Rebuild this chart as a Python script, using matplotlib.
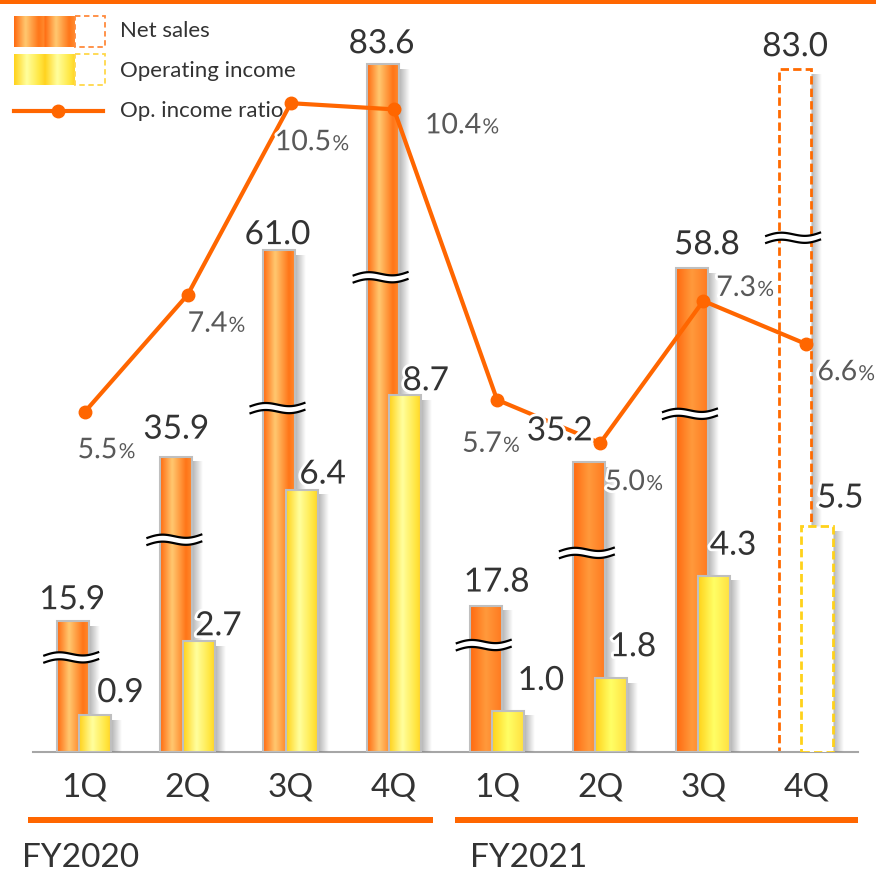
import numpy as np
import matplotlib
matplotlib.use('Agg')
import matplotlib.pyplot as plt
import matplotlib.patheffects as pe
from matplotlib.colors import LinearSegmentedColormap
from matplotlib.patches import Rectangle

plt.rcParams['font.family'] = ['Lato', 'DejaVu Sans']

# data (net sales / operating income in billions, ratio in %)
quarters = ['1Q', '2Q', '3Q', '4Q', '1Q', '2Q', '3Q', '4Q']
net_sales = [15.9, 35.9, 61.0, 83.6, 17.8, 35.2, 58.8, 83.0]
op_income = [0.9, 2.7, 6.4, 8.7, 1.0, 1.8, 4.3, 5.5]
op_ratio = [5.5, 7.4, 10.5, 10.4, 5.7, 5.0, 7.3, 6.6]
forecast = [False, False, False, False, False, False, False, True]
break_at = [11.5, 25.8, 41.8, 57.7, 13.0, 24.2, 41.1, 62.5]   # where the "≈" marks sit

# label nudges in pixels (right, up)
net_off = [(-1, 12), (0, 18), (-2, 6), (-1, 11), (11, 14), (-29, 22), (15, 14), (0, 13)]
op_off = [(25, 13), (20, 6), (21, 6), (21, 5), (33, 21), (22, 22), (19, 21), (23, 19)]
pct_off = [(-7, -46), (0, -37), (-16, -47), (31, -24), (-35, -52), (5, -47), (13, 5), (11, -36)]

ORANGE = '#FF6600'
TXT = '#333333'

net_cmap = LinearSegmentedColormap.from_list('net', [(0, '#FF6A10'), (0.38, '#FFC870'), (0.82, '#FF7518'), (1, '#FF8A2E')])
op_cmap = LinearSegmentedColormap.from_list('op', [(0, '#FFD21A'), (0.42, '#FFFF9E'), (0.85, '#FFE640'), (1, '#FFD528')])
net_cmap2 = LinearSegmentedColormap.from_list('net2', [(0, '#FF6A10'), (0.5, '#FF9A3C'), (1, '#FF7A20')])
op_cmap2 = LinearSegmentedColormap.from_list('op2', [(0, '#FFD21A'), (0.5, '#FFFF66'), (1, '#FFE040')])

W, H = 876, 872
fig = plt.figure(figsize=(W / 100, H / 100), dpi=100)
ov = fig.add_axes([0, 0, 1, 1], zorder=-1)
ax = fig.add_axes([33 / W, 120 / H, 825 / W, 752 / H])
ax2 = ax.twinx()
ax3 = ax.twinx()

YTOP = {ax: 91.4, ax2: 18.34, ax3: 12.17}
BW = 0.31
px_x = 8 / 825


def px_y(a):
    return YTOP[a] / 752


def draw_bar(a, x0, h, cmap, dashed, edge):
    yp = px_y(a)
    sh = np.zeros((1, 32, 4))
    sh[..., :3] = 0.5
    sh[0, :, 3] = np.linspace(0.6, 0, 32)
    a.imshow(sh, extent=(x0 + BW, x0 + BW + 11 * px_x, 0, h - 5 * yp),
             aspect='auto', interpolation='bilinear', zorder=1)
    if dashed:
        a.add_patch(Rectangle((x0, 0), BW, h, facecolor='white', edgecolor=edge,
                              lw=2, ls=(0, (3, 1.5)), zorder=2))
    else:
        a.imshow(np.linspace(0, 1, 64)[None, :], extent=(x0, x0 + BW, 0, h),
                 aspect='auto', cmap=cmap, interpolation='bicubic', zorder=2)
        a.add_patch(Rectangle((x0, 0), BW, h, fill=False, edgecolor='#BFBFBF', lw=1.5, zorder=3))


def draw_break(x0, yc):
    yp = px_y(ax)
    t = np.linspace(0, 1, 60)
    xs = x0 - 14 * px_x + t * (BW + 24 * px_x)
    wave = (2.5 * np.sin(2 * np.pi * t) + 4 * t - 2) * yp
    up = yc + 3.5 * yp + wave
    lo = yc - 3.5 * yp + wave
    ax.fill_between(xs, lo, up, color='white', lw=0, zorder=5)
    ax.plot(xs, up, color='black', lw=1.6, zorder=6, solid_capstyle='butt')
    ax.plot(xs, lo, color='black', lw=1.6, zorder=6, solid_capstyle='butt')


halo = [pe.withStroke(linewidth=4, foreground='white')]

for i in range(len(quarters)):
    late = i >= 4
    draw_bar(ax, i - 0.11 - BW / 2, net_sales[i], net_cmap2 if late else net_cmap, forecast[i], '#FF6A00')
    draw_bar(ax2, i + 0.105 - BW / 2, op_income[i], op_cmap2 if late else op_cmap, forecast[i], '#FFD21A')
    draw_break(i - 0.11 - BW / 2, break_at[i])

ax3.plot(range(len(quarters)), op_ratio, color=ORANGE, lw=3, marker='o', ms=9, zorder=5)

for i in range(len(quarters)):
    ax3.annotate(f'{net_sales[i]:.1f}', xy=(i - 0.11, net_sales[i]), xycoords=ax.transData,
                 xytext=net_off[i], textcoords='offset pixels', ha='center', va='baseline',
                 fontsize=24, color=TXT, path_effects=halo, zorder=10, annotation_clip=False)
    ax3.annotate(f'{op_income[i]:.1f}', xy=(i + 0.105, op_income[i]), xycoords=ax2.transData,
                 xytext=op_off[i], textcoords='offset pixels', ha='center', va='baseline',
                 fontsize=24, color=TXT, path_effects=halo, zorder=10, annotation_clip=False)
    t = ax3.annotate(f'{op_ratio[i]:.1f}', xy=(i, op_ratio[i]), xytext=pct_off[i],
                     textcoords='offset pixels', ha='left', va='baseline',
                     fontsize=20.5, color='#595959', path_effects=halo, zorder=10, annotation_clip=False)
    ax3.annotate('%', xy=(1, 0), xycoords=t, xytext=(1, 1), textcoords='offset pixels',
                 ha='left', va='bottom', fontsize=15, color='#595959', path_effects=halo,
                 zorder=10, annotation_clip=False)

for a in (ax, ax2, ax3):
    a.set_xlim(-0.5, 7.5)
    a.set_ylim(0, YTOP[a])
    a.set_yticks([])
    a.patch.set_visible(False)
    for s in a.spines.values():
        s.set_visible(False)
ax.spines['bottom'].set_visible(True)
ax.spines['bottom'].set_color('#A6A6A6')
ax.spines['bottom'].set_linewidth(1.5)
ax.set_xticks(range(len(quarters)))
ax.set_xticklabels(quarters, fontsize=24, color=TXT)
ax.tick_params(axis='x', length=0, pad=15)

# frame decorations and legend, in pixel coordinates
ov.add_patch(Rectangle((0, 0), W, 4, color=ORANGE, lw=0))
ov.add_patch(Rectangle((28, 817), 405, 6, color=ORANGE, lw=0))
ov.add_patch(Rectangle((455, 817), 403, 6, color=ORANGE, lw=0))
ov.text(22, 867, 'FY2020', fontsize=24, color=TXT, va='baseline')
ov.text(470, 867, 'FY2021', fontsize=24, color=TXT, va='baseline')

tile = np.tile(np.linspace(0, 1, 64), 2)[None, :]
ov.imshow(tile, extent=(14, 75, 47, 16), cmap=net_cmap, aspect='auto', interpolation='bicubic')
ov.imshow(tile, extent=(14, 75, 85, 54), cmap=op_cmap, aspect='auto', interpolation='bicubic')
ov.add_patch(Rectangle((75, 16), 30, 31, fill=False, edgecolor='#FF8A3D', lw=1.3, ls=(0, (3, 2))))
ov.add_patch(Rectangle((75, 54), 30, 31, fill=False, edgecolor='#FFD84A', lw=1.3, ls=(0, (3, 2))))
ov.plot([14, 103], [111, 111], color=ORANGE, lw=3)
ov.plot([58], [111], 'o', color=ORANGE, ms=9)
ov.text(120, 31, 'Net sales', fontsize=16, color=TXT, va='center')
ov.text(120, 71, 'Operating income', fontsize=16, color=TXT, va='center')
ov.text(120, 111, 'Op. income ratio', fontsize=16, color=TXT, va='center')
ov.set_xlim(0, W)
ov.set_ylim(H, 0)
ov.axis('off')

fig.savefig('out.png', dpi=100, facecolor='white')
